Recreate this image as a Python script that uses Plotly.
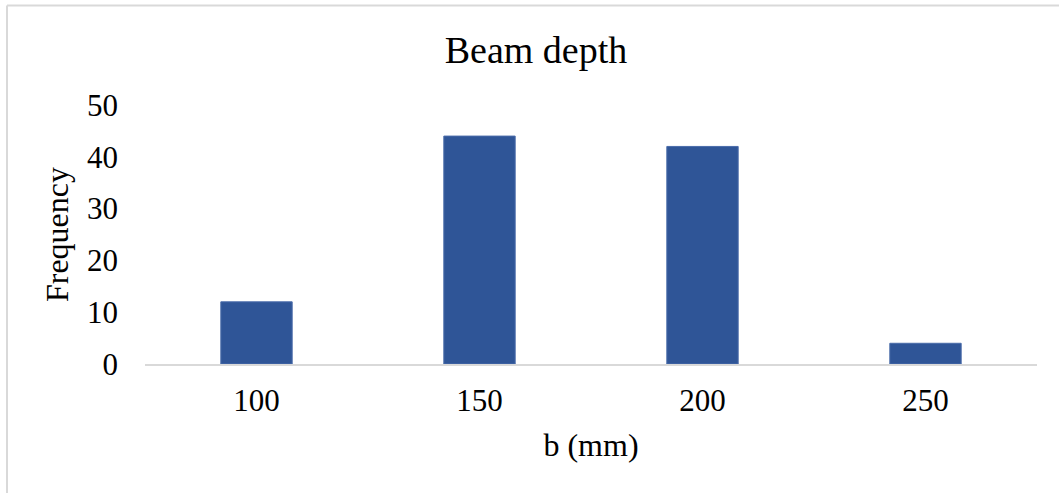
import plotly.graph_objects as go

categories = ["100", "150", "200", "250"]
frequency = [12, 44, 42, 4]
y_ticks = [0, 10, 20, 30, 40, 50]

W, H = 1059, 493
L, R, T, B = 145, 22, 105, 129
pw = W - L - R
ph = H - T - B

def px_to_paper_x(px):
    return (px - L) / pw

def px_to_paper_y(py):
    return (H - B - py) / ph

font_family = "Liberation Serif, Times New Roman, serif"

fig = go.Figure(
    go.Bar(
        x=categories,
        y=frequency,
        marker=dict(color="#2F5597", line=dict(color="#4A6CAA", width=1)),
    )
)

fig.update_layout(
    width=W,
    height=H,
    margin=dict(l=L, r=R, t=T, b=B, autoexpand=False),
    paper_bgcolor="white",
    plot_bgcolor="white",
    bargap=0.68,
    showlegend=False,
    font=dict(family=font_family, color="black"),
    title=dict(
        text="Beam depth",
        x=536 / W,
        xanchor="center",
        y=1 - 50 / H,
        yanchor="middle",
        font=dict(size=38, family=font_family, color="black"),
    ),
    xaxis=dict(
        type="category",
        showline=True,
        linecolor="#D9D9D9",
        linewidth=2,
        showgrid=False,
        ticks="",
        tickfont=dict(size=31, family=font_family, color="black"),
        ticklabelstandoff=8,
        title=dict(text="b (mm)", font=dict(size=32, family=font_family, color="black"), standoff=16),
        automargin=False,
    ),
    yaxis=dict(
        range=[0, 50],
        tickvals=y_ticks,
        showline=False,
        showgrid=False,
        zeroline=False,
        ticks="",
        tickfont=dict(size=31, family=font_family, color="black"),
        ticklabelstandoff=26,
        title=dict(text="Frequency", font=dict(size=32, family=font_family, color="black"), standoff=8),
        automargin=False,
    ),
    shapes=[
        dict(type="line", xref="paper", yref="paper",
             x0=px_to_paper_x(7), x1=px_to_paper_x(1070),
             y0=px_to_paper_y(5.5), y1=px_to_paper_y(5.5),
             line=dict(color="#D9D9D9", width=2)),
        dict(type="line", xref="paper", yref="paper",
             x0=px_to_paper_x(7), x1=px_to_paper_x(7),
             y0=px_to_paper_y(5.5), y1=px_to_paper_y(500),
             line=dict(color="#D9D9D9", width=2)),
    ],
)

fig.write_html("out.html")
